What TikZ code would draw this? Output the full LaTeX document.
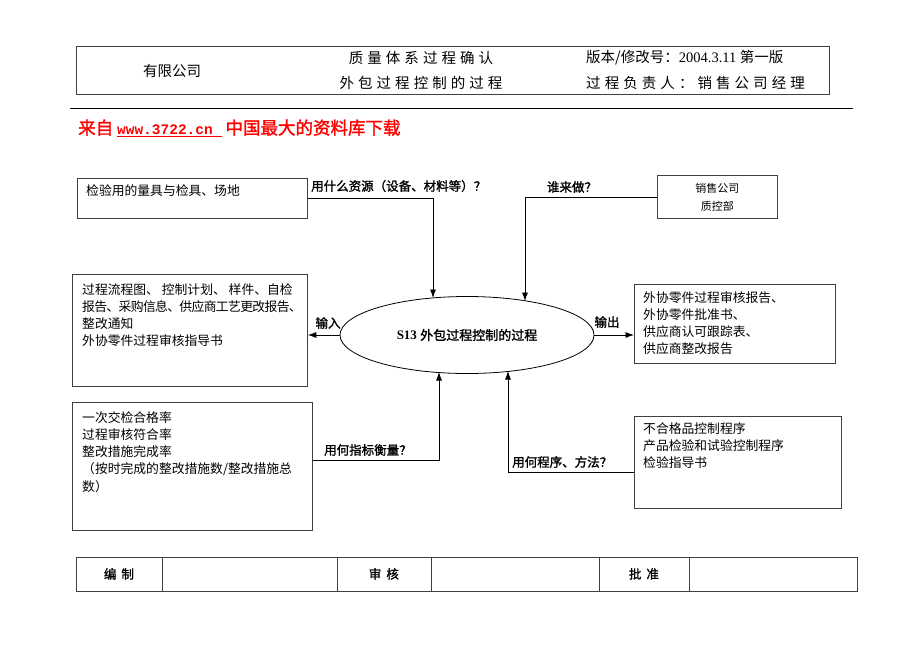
\documentclass[tikz,border=0pt]{standalone}
\usepackage{fontspec}
\setmainfont{Liberation Serif}
\setmonofont{Liberation Mono}
\newfontfamily\cjk{Noto Sans CJK SC}
\newfontfamily\cjkb{Noto Sans CJK SC}[FakeBold=1.5]
\newfontfamily\cjkwide{Noto Sans CJK SC}[LetterSpace=28]
\usetikzlibrary{matrix,arrows.meta,shapes.geometric,positioning}
\newcommand{\bodyfont}{\cjk\fontsize{12.8}{17.3}\selectfont}
\newcommand{\askfont}{\cjkb\fontsize{12.5}{15}\selectfont}
\newcommand{\headfont}{\fontsize{14.5}{17}\selectfont}
\newcommand{\tight}{\addfontfeature{LetterSpace=-5}}

\begin{document}
\begin{tikzpicture}[x=1pt, y=-1pt, >={Latex[length=8.5pt,width=6pt]},
		box/.style={draw=black!75, line width=0.8pt, inner sep=0, anchor=north west},
		txt/.style={inner sep=0, align=left, font=\bodyfont},
		ask/.style={inner sep=0, font=\askfont},
		elbow/.style={to path={-| (\tikztotarget)}}]
	\useasboundingbox (0,0) rectangle (920,651);

	\node[box, minimum width=753, minimum height=48] (head) at (76,46) {};
	\node[font=\cjk\headfont] (firm) at (172,71) {有限公司};
	\node[font=\cjkwide\headfont] (doc) at (421,58) {质量体系过程确认};
	\node[font=\cjkwide\headfont] (docsub) at (421,83) {外包过程控制的过程};
	\node[anchor=west, inner sep=0, font=\headfont] (ver) at (586,58) {{\cjk 版本/修改号：}2004.3.11 {\cjk 第一版}};
	\node[anchor=west, inner sep=0, font=\cjkwide\headfont] (owner) at (586,83) {过程负责人：销售公司经理};
	\draw[line width=0.8pt] (70,108) -- (853,108);
	\node[anchor=west, inner sep=0, text=red, font=\cjkb\fontsize{17.5}{18}\selectfont] (src) at (78,128)
		{来自 {\ttfamily\bfseries\fontsize{14.5}{18}\selectfont\underline{www.3722.cn~}}\hspace{4pt}中国最大的资料库下载};

	\node[ellipse, draw, line width=0.8pt, minimum width=254, minimum height=77, inner sep=0] (proc) at (467,335)
		{\fontsize{13}{15}\selectfont{\bfseries S13} {\cjkb 外包过程控制的过程}};

	\node[box, minimum width=230, minimum height=40] (res) at (77,178) {};
	\node[txt, below right=6pt and 9pt of res.north west] (restxt) {检验用的量具与检具、场地};
	\node[box, minimum width=120, minimum height=43] (who) at (657,175) {};
	\node[txt, align=center, font=\cjk\fontsize{11}{18}\selectfont, below=8pt of who.north] (whotxt) {销售公司\\质控部};
	\node[box, minimum width=235, minimum height=112] (inp) at (72,274) {};
	\node[txt, below right=9pt and 10pt of inp.north west] (inptxt)
		{过程流程图、 控制计划、 样件、自检\\{\tight 报告、采购信息、供应商工艺更改报告、}\\整改通知\\外协零件过程审核指导书};
	\node[box, minimum width=201, minimum height=79] (outp) at (634,284) {};
	\node[txt, below right=7pt and 9pt of outp.north west] (outptxt)
		{外协零件过程审核报告、\\外协零件批准书、\\供应商认可跟踪表、\\供应商整改报告};
	\node[box, minimum width=240, minimum height=128] (kpi) at (72,402) {};
	\node[txt, below right=9pt and 10pt of kpi.north west] (kpitxt)
		{一次交检合格率\\过程审核符合率\\整改措施完成率\\（按时完成的整改措施数/整改措施总\\数）};
	\node[box, minimum width=207, minimum height=92] (meth) at (634,416) {};
	\node[txt, below right=6pt and 9pt of meth.north west] (methtxt)
		{不合格品控制程序\\产品检验和试验控制程序\\检验指导书};

	\node[ask, anchor=west] (resq) at (311,186) {用什么资源（设备、材料等）？};
	\node[ask] (whoq) at (572,187) {谁来做？};
	\node[ask] (inq) at (328,323) {输入};
	\node[ask] (outq) at (607,322) {输出};
	\node[ask, anchor=west] (kpiq) at (324,450) {用何指标衡量？};
	\node[ask, anchor=west] (methq) at (512,462) {用何程序、方法？};

	\coordinate (resin) at (433,298);
	\coordinate (whoin) at (525,301);
	\coordinate (kpiin) at (439,372);
	\coordinate (methin) at (508,371);
	\path[->, line width=0.8pt]
		(res.east) edge[elbow] (resin)
		(who.west) edge[elbow] (whoin)
		([yshift=6pt]kpi.east) edge[elbow] (kpiin)
		([yshift=-10pt]meth.west) edge[elbow] (methin)
		(proc.west) edge (proc.west -| inp.east)
		(proc.east) edge (proc.east -| outp.west);

	\matrix (sign) [matrix of nodes, nodes in empty cells, anchor=north west, column sep=-0.8pt,
		nodes={draw=black!75, line width=0.8pt, anchor=center, minimum height=34, inner sep=0, font=\askfont},
		column 1/.style={nodes={minimum width=86}},
		column 2/.style={nodes={minimum width=175}},
		column 3/.style={nodes={minimum width=94}},
		column 4/.style={nodes={minimum width=168}},
		column 5/.style={nodes={minimum width=90}},
		column 6/.style={nodes={minimum width=168}}] at (72,553)
	{
		编\hspace{5pt}制 & & 审\hspace{5pt}核 & & 批\hspace{5pt}准 & \\
	};
\end{tikzpicture}
\end{document}
